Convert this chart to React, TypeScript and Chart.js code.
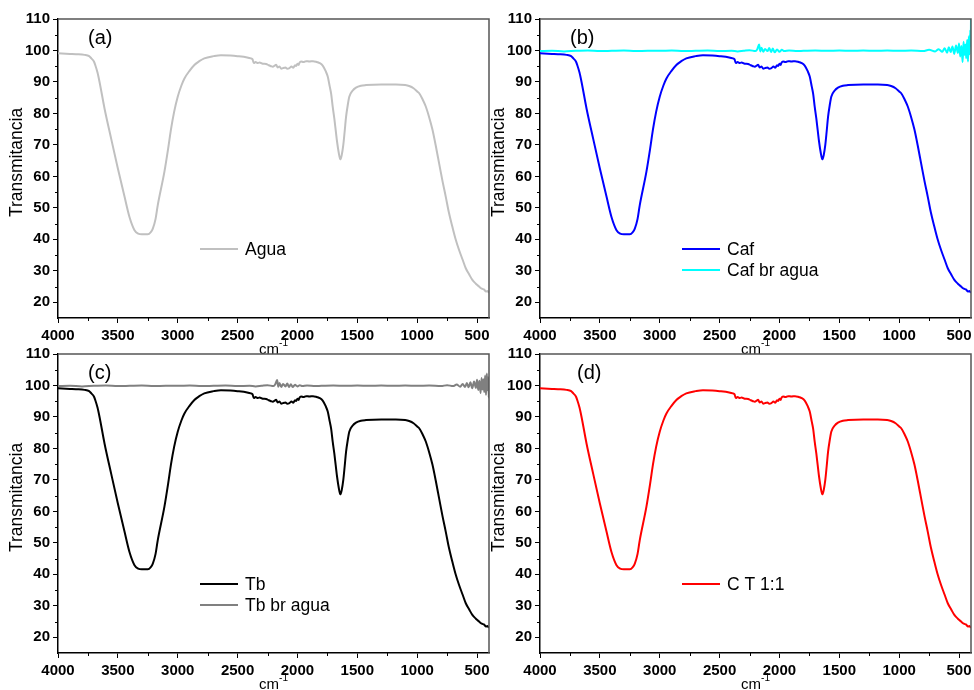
import { useEffect, useRef } from "react";
import { Chart, registerables } from "chart.js";
Chart.register(...registerables);

// ---------- DATA ----------
const wavenumbers = [
  4000, 3900, 3850, 3778, 3740, 3722, 3700, 3689, 3670, 3653, 3611, 3556, 3500, 3444, 3403, 3361, 3330, 3300, 3250,
  3225, 3208, 3185, 3167, 3111, 3080, 3056, 3030, 3000, 2970, 2944, 2900, 2861, 2820, 2778, 2700, 2639, 2560, 2500,
  2420, 2389, 2375, 2365, 2350, 2330, 2317, 2290, 2261, 2240, 2220, 2206, 2190, 2178, 2165, 2150, 2135, 2122, 2100,
  2085, 2067, 2050, 2035, 2020, 2011, 2000, 1990, 1983, 1970, 1950, 1928, 1900, 1870, 1844, 1815, 1789, 1765, 1747,
  1730, 1719, 1705, 1692, 1680, 1669, 1655, 1642, 1630, 1617, 1605, 1594, 1580, 1567, 1540, 1511, 1470, 1428, 1300,
  1178, 1100, 1067, 1030, 1000, 983, 955, 928, 900, 872, 845, 817, 790, 761, 735, 706, 680, 650, 620, 594, 565, 539,
  510, 483, 460, 440, 425, 414, 405, 400,
];
const aguaT = [
  99.1, 98.9, 98.8, 98.6, 98.2, 97.5, 96.5, 95.4, 93.0, 90.0, 81.5, 72.0, 62.5, 53.5, 47.1, 42.9, 41.8, 41.6, 41.6,
  42.3, 43.4, 46.5, 50.8, 61.5, 68.8, 75.0, 80.5, 85.3, 88.8, 91.1, 93.6, 95.4, 96.6, 97.5, 98.2, 98.5, 98.4, 98.2,
  97.8, 97.5, 97.2, 96.0, 96.3, 96.0, 96.2, 95.8, 95.7, 95.3, 95.0, 94.8, 95.2, 95.5, 94.6, 94.9, 94.2, 94.4, 94.6,
  94.2, 94.4, 94.9, 94.5, 95.3, 95.1, 95.8, 95.4, 96.1, 96.5, 96.3, 96.6, 96.5, 96.6, 96.4, 96.0, 95.2, 93.5, 91.7,
  88.5, 86.4, 82.0, 78.4, 74.5, 71.0, 67.5, 65.4, 66.8, 70.0, 74.5, 78.9, 82.6, 85.3, 87.2, 88.2, 88.8, 89.0, 89.2,
  89.2, 89.0, 88.7, 88.0, 87.0, 86.4, 84.5, 82.2, 78.8, 74.8, 69.8, 64.2, 58.8, 53.5, 48.5, 44, 40.2, 36.6, 33.5,
  30.8, 28.8, 27.1, 25.9, 25.0, 24.3, 24.0, 23.4, 23.6, 23.2, 23.5,
];
const cafT = aguaT;
const tbT = aguaT;
const ctT = aguaT;

const brWavenumbers = [
  4000, 3900, 3800, 3700, 3600, 3500, 3400, 3300, 3200, 3100, 3000, 2900, 2800, 2700, 2600, 2500, 2400, 2350, 2300,
  2250, 2200, 2185, 2170, 2160, 2150, 2135, 2120, 2100, 2085, 2070, 2055, 2040, 2020, 2000, 1980, 1960, 1920, 1850,
  1800, 1700, 1600, 1500, 1400, 1300, 1200, 1100, 1000, 900, 800, 750, 700, 670, 640, 620, 600, 585, 570, 555, 540,
  525, 510, 500, 490, 480, 470, 462, 455, 447, 440, 432, 425, 418, 412, 406, 402, 400,
];
const cafBrT = [
  99.8, 99.9, 99.7, 99.9, 100.0, 99.8, 99.9, 100.0, 99.8, 99.9, 99.9, 100.0, 99.8, 99.9, 100.0, 99.8, 99.9, 99.7, 99.9,
  100.1, 99.8, 100.4, 101.9, 99.7, 100.9, 99.6, 100.5, 99.8, 100.8, 99.5, 100.6, 99.4, 100.3, 99.6, 100.2, 99.8, 100.0, 99.8,
  99.9, 100.0, 99.9, 100.0, 99.9, 100.0, 99.9, 100.0, 99.9, 100.0, 99.8, 100.2, 99.7, 100.4, 99.6, 100.7, 99.3, 101.0, 99.5,
  101.3, 98.9, 101.6, 99.2, 102.2, 98.1, 101.4, 96.3, 102.8, 98.6, 101.9, 97.5, 103.4, 96.5, 104.5, 98.8, 106.5, 101.5, 110.5,
];
const tbBrT = [
  99.8, 99.9, 99.7, 99.9, 100.0, 99.8, 99.9, 100.0, 99.8, 99.9, 99.9, 100.0, 99.8, 99.9, 100.0, 99.8, 99.9, 99.7, 99.9,
  100.1, 99.8, 100.4, 101.7, 99.6, 100.8, 99.5, 100.5, 99.7, 100.6, 99.5, 100.4, 99.5, 100.2, 99.7, 100.1, 99.8, 100.0, 99.8,
  99.9, 100.0, 99.9, 100.0, 99.9, 100.0, 99.9, 100.0, 99.9, 100.0, 99.8, 100.1, 99.8, 100.3, 99.6, 100.5, 99.5, 100.8, 99.4,
  101.0, 99.1, 101.3, 99.2, 101.8, 98.6, 101.5, 97.6, 102.4, 98.7, 102.0, 97.9, 103.2, 97.0, 103.8, 98.5, 102.6, 96.2, 100.5,
];

const xMajorTicks = [4000, 3500, 3000, 2500, 2000, 1500, 1000, 500];
const xMinorTicks = [3750, 3250, 2750, 2250, 1750, 1250, 750];
const yMinorTicks = [25, 35, 45, 55, 65, 75, 85, 95, 105];

const FONT = "'Liberation Sans', Arial, sans-serif";

type Series = { label: string; x: number[]; y: number[]; color: string; width: number };

function pts(x: number[], y: number[]) {
  return x.map((v, i) => ({ x: v, y: y[i] }));
}

function Panel(props: { left: number; top: number; tag: string; series: Series[] }) {
  const ref = useRef<HTMLCanvasElement>(null);
  useEffect(() => {
    const canvas = ref.current!;
    const { tag, series } = props;
    const deco = {
      id: "deco",
      afterDraw(chart: any) {
        const ctx = chart.ctx as CanvasRenderingContext2D;
        const { left, right, top, bottom } = chart.chartArea;
        const xs = chart.scales.x;
        const ys = chart.scales.y;
        ctx.save();
        // top/right frame
        ctx.strokeStyle = "#555";
        ctx.lineWidth = 1.5;
        ctx.beginPath();
        ctx.moveTo(left, top);
        ctx.lineTo(right, top);
        ctx.lineTo(right, bottom);
        ctx.stroke();
        // minor ticks
        ctx.strokeStyle = "#000";
        ctx.lineWidth = 1;
        ctx.beginPath();
        for (const v of xMinorTicks) {
          const px = Math.round(xs.getPixelForValue(v)) + 0.5;
          ctx.moveTo(px, bottom);
          ctx.lineTo(px, bottom + 3);
        }
        for (const v of yMinorTicks) {
          const py = Math.round(ys.getPixelForValue(v)) + 0.5;
          ctx.moveTo(left, py);
          ctx.lineTo(left - 3, py);
        }
        ctx.stroke();
        // y title
        ctx.fillStyle = "#000";
        ctx.font = `17.5px ${FONT}`;
        ctx.textAlign = "center";
        ctx.textBaseline = "middle";
        ctx.save();
        ctx.translate(17, (top + bottom) / 2 - 6);
        ctx.rotate(-Math.PI / 2);
        ctx.fillText("Transmitancia", 0, 0);
        ctx.restore();
        // x title cm-1
        ctx.font = `15px ${FONT}`;
        const w1 = ctx.measureText("cm").width;
        ctx.font = `10px ${FONT}`;
        const w2 = ctx.measureText("-1").width;
        const cx = (left + right) / 2;
        const sx = cx - (w1 + w2) / 2;
        ctx.textAlign = "left";
        ctx.textBaseline = "alphabetic";
        ctx.font = `15px ${FONT}`;
        ctx.fillText("cm", sx, bottom + 36);
        ctx.font = `10px ${FONT}`;
        ctx.fillText("-1", sx + w1, bottom + 28);
        // panel tag
        ctx.font = `20px ${FONT}`;
        ctx.textBaseline = "middle";
        ctx.fillText(tag, left + 30 + (tag === "(d)" ? 7 : 0), top + 19);
        // legend
        ctx.font = `17.5px ${FONT}`;
        series.forEach((s, i) => {
          const y = 249 + i * 21;
          ctx.strokeStyle = s.color;
          ctx.lineWidth = 2;
          ctx.beginPath();
          ctx.moveTo(200, y);
          ctx.lineTo(238, y);
          ctx.stroke();
          ctx.fillStyle = "#000";
          ctx.fillText(s.label, 245, y + 1);
        });
        ctx.restore();
      },
    };
    const chart = new Chart(canvas, {
      type: "line",
      data: {
        datasets: series.map((s) => ({
          label: s.label,
          data: pts(s.x, s.y),
          borderColor: s.color,
          backgroundColor: s.color,
          borderWidth: s.width,
          pointRadius: 0,
          tension: 0,
          cubicInterpolationMode: "monotone" as const,
          fill: false,
        })),
      },
      options: {
        animation: false,
        responsive: false,
        events: [],
        layout: { padding: { left: 0, top: 19, right: 3, bottom: 0 } },
        plugins: { legend: { display: false }, tooltip: { enabled: false } },
        scales: {
          x: {
            type: "linear",
            reverse: true,
            min: 400,
            max: 4000,
            afterFit: (s: any) => {
              s.height = 40;
              s.paddingLeft = 0;
              s.paddingRight = 0;
            },
            afterBuildTicks: (s: any) => {
              s.ticks = xMajorTicks.map((v) => ({ value: v }));
            },
            ticks: {
              stepSize: 500,
              includeBounds: false,
              autoSkip: false,
              maxRotation: 0,
              padding: 4,
              color: "#000",
              font: { family: FONT, size: 15, weight: "bold" },
              callback: (v: any) => String(v),
            },
            grid: { drawOnChartArea: false, drawTicks: true, tickLength: 5, tickColor: "#000", tickWidth: 1 },
            border: { color: "#000", width: 1.5 },
          },
          y: {
            type: "linear",
            min: 15,
            max: 110,
            afterFit: (s: any) => {
              s.width = 58;
              s.paddingTop = 0;
              s.paddingBottom = 0;
            },
            ticks: {
              stepSize: 10,
              includeBounds: false,
              autoSkip: false,
              padding: 3,
              color: "#000",
              font: { family: FONT, size: 15, weight: "bold" },
            },
            grid: { drawOnChartArea: false, drawTicks: true, tickLength: 5, tickColor: "#000", tickWidth: 1 },
            border: { color: "#000", width: 1.5 },
          },
        },
      },
      plugins: [deco],
    } as any);
    return () => chart.destroy();
  }, []);
  return (
    <canvas
      ref={ref}
      width={492}
      height={358}
      style={{ position: "absolute", left: props.left, top: props.top, width: 492, height: 358 }}
    />
  );
}

export default function App() {
  return (
    <div
      style={{
        position: "fixed",
        left: 0,
        top: 0,
        width: 974,
        height: 690,
        overflow: "hidden",
        background: "#fff",
      }}
    >
      <Panel left={0} top={0} tag="(a)" series={[{ label: "Agua", x: wavenumbers, y: aguaT, color: "#c0c0c0", width: 2 }]} />
      <Panel
        left={482}
        top={0}
        tag="(b)"
        series={[
          { label: "Caf", x: wavenumbers, y: cafT, color: "#0000ff", width: 2 },
          { label: "Caf br agua", x: brWavenumbers, y: cafBrT, color: "#00ffff", width: 2 },
        ]}
      />
      <Panel
        left={0}
        top={335}
        tag="(c)"
        series={[
          { label: "Tb", x: wavenumbers, y: tbT, color: "#000000", width: 2 },
          { label: "Tb br agua", x: brWavenumbers, y: tbBrT, color: "#808080", width: 2 },
        ]}
      />
      <Panel left={482} top={335} tag="(d)" series={[{ label: "C T 1:1", x: wavenumbers, y: ctT, color: "#ff0000", width: 2 }]} />
    </div>
  );
}
